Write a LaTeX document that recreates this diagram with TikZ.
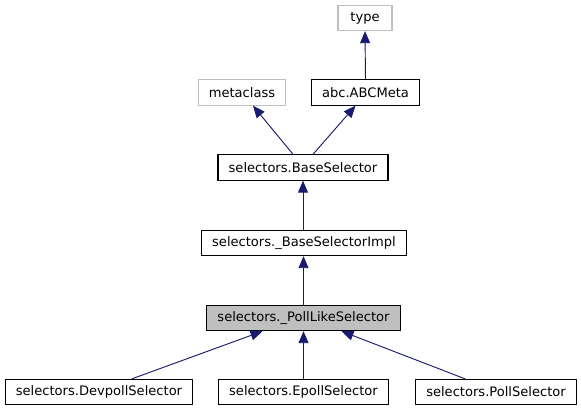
\documentclass[tikz,border=0pt]{standalone}
\usepackage{fontspec}
\setmainfont{DejaVu Sans}
\usetikzlibrary{arrows.meta}
\definecolor{edgeblue}{HTML}{191970}
\definecolor{boxgray}{HTML}{BFBFBF}
\tikzstyle{cls} = [draw=black, line width=0.8pt, rectangle, minimum height=19pt, minimum width=40.5pt, inner xsep=8pt, font=\fontsize{9.8}{11}\selectfont]
\tikzstyle{ext} = [cls, draw=boxgray]
\tikzstyle{cur} = [cls, fill=boxgray]
\tikzstyle{inh} = [draw=edgeblue, line width=0.7pt, ->]

\begin{document}
\begin{tikzpicture}[x=0.75pt,y=-0.75pt,>={Triangle[length=9pt,width=7.5pt]}]
    \useasboundingbox (0,0) rectangle (581,411);
    \node [ext] (type) at (365,18) {type};
    \node [ext] (meta) at (242,92.5) {metaclass};
    \node [cls] (abc) at (365.5,92.5) {abc.ABCMeta};
    \node [cls] (base) at (303,167.5) {selectors.BaseSelector};
    \node [cls] (impl) at (304,243) {selectors.\_BaseSelectorImpl};
    \node [cur] (poll) at (303.5,318) {selectors.\_PollLikeSelector};
    \node [cls] (devpoll) at (99,392) {selectors.DevpollSelector};
    \node [cls] (epoll) at (303.5,392) {selectors.EpollSelector};
    \node [cls] (pollsel) at (496,392) {selectors.PollSelector};

    \draw [inh] (abc.north) -- (type.south);
    \draw [inh] ([xshift=-7.5pt]base.north) -- ([xshift=8.25pt]meta.south);
    \draw [inh] ([xshift=7.5pt]base.north) -- ([xshift=-7.5pt]abc.south);
    \draw [inh] (impl.north -| base.south) -- (base.south);
    \draw [inh] (poll.north) -- (poll.north |- impl.south);
    \draw [inh] ([xshift=24.75pt]devpoll.north) -- ([xshift=-30.75pt]poll.south);
    \draw [inh] (epoll.north) -- (poll.south);
    \draw [inh] ([xshift=-23.25pt]pollsel.north) -- ([xshift=28.5pt]poll.south);
\end{tikzpicture}
\end{document}
